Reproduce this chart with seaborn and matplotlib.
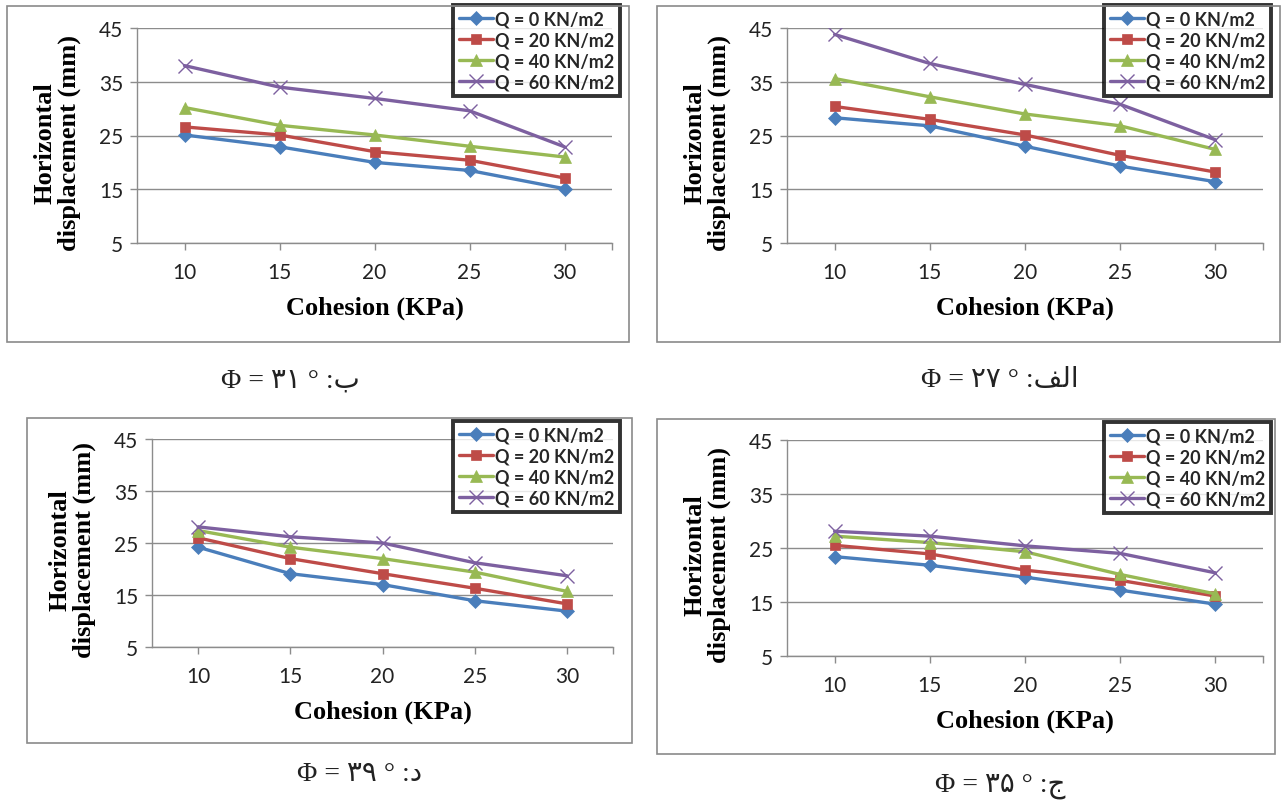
import matplotlib
matplotlib.use("Agg")
import matplotlib.pyplot as plt
from matplotlib.patches import Rectangle
from matplotlib.lines import Line2D
import seaborn as sns
import pandas as pd

# ---------------- data ----------------
cohesion = [10, 15, 20, 25, 30]
series_labels = ["Q = 0 KN/m2", "Q = 20 KN/m2", "Q = 40 KN/m2", "Q = 60 KN/m2"]

# Panel "ب" (phi = 31)
phi31_q0 = [25.1, 22.9, 20.0, 18.5, 15.1]
phi31_q20 = [26.6, 25.1, 22.0, 20.4, 17.1]
phi31_q40 = [30.2, 26.9, 25.1, 23.0, 21.0]
phi31_q60 = [38.0, 34.0, 31.9, 29.6, 22.9]

# Panel "الف" (phi = 27)
phi27_q0 = [28.3, 26.8, 23.0, 19.3, 16.4]
phi27_q20 = [30.4, 28.0, 25.1, 21.3, 18.2]
phi27_q40 = [35.6, 32.2, 29.0, 26.8, 22.4]
phi27_q60 = [43.8, 38.4, 34.5, 30.8, 24.2]

# Panel "د" (phi = 39)
phi39_q0 = [24.2, 19.1, 17.0, 13.9, 11.9]
phi39_q20 = [26.0, 22.0, 19.1, 16.3, 13.3]
phi39_q40 = [27.4, 24.2, 22.0, 19.4, 15.7]
phi39_q60 = [28.1, 26.2, 25.0, 21.2, 18.7]

# Panel "ج" (phi = 35)
phi35_q0 = [23.4, 21.8, 19.6, 17.2, 14.6]
phi35_q20 = [25.5, 23.9, 20.9, 19.0, 16.1]
phi35_q40 = [27.2, 26.0, 24.3, 20.1, 16.5]
phi35_q60 = [28.1, 27.2, 25.4, 24.0, 20.4]

# captions (visual order; Persian digits)
cap_31 = "Φ = ۳۱ ° :ب"
cap_27 = "Φ = ۲۷ ° :" + "\uFED2\uFEDF\u0627"
cap_39 = "Φ = ۳۹ ° :د"
cap_35 = "Φ = ۳۵ ° :ج"

yticks = [5, 15, 25, 35, 45]

# ---------------- style ----------------
sns.set_theme(style="white")
plt.rcParams["font.family"] = ["Lato", "DejaVu Sans"]

colors = ["#4A7EBB", "#BE4B48", "#98B954", "#7D60A0"]
markers = ["D", "s", "^", "x"]
msizes = [7, 7.5, 8.5, 10]

W, H = 1281, 803
fig = plt.figure(figsize=(W / 100, H / 100), dpi=100)


def fx(px):
    return px / W


def fy(py):
    return 1 - py / H


panels = [
    dict(box=(7, 7, 629, 343), ax=(137, 29, 612, 244), leg=(620, 6), cap=(290, 381), cap_text=cap_31,
         data=[phi31_q0, phi31_q20, phi31_q40, phi31_q60]),
    dict(box=(657, 7, 1280, 343), ax=(787, 29, 1263, 244), leg=(1271, 6), cap=(1000, 381), cap_text=cap_27,
         data=[phi27_q0, phi27_q20, phi27_q40, phi27_q60]),
    dict(box=(27, 419, 632, 744), ax=(152, 440, 613, 648), leg=(620, 422), cap=(360, 775), cap_text=cap_39,
         data=[phi39_q0, phi39_q20, phi39_q40, phi39_q60]),
    dict(box=(657, 420, 1275, 755), ax=(787, 441, 1263, 657), leg=(1271, 423), cap=(1000, 786), cap_text=cap_35,
         data=[phi35_q0, phi35_q20, phi35_q40, phi35_q60]),
]

grid_c = "#8C8C8C"

for p in panels:
    bl, bt, br, bb = p["box"]
    fig.patches.append(Rectangle((fx(bl), fy(bb)), fx(br - bl), (bb - bt) / H,
                                 transform=fig.transFigure, fill=False,
                                 edgecolor="#8A8A8A", lw=1.2, zorder=0))
    l, t, r, b = p["ax"]
    ax = fig.add_axes([fx(l), fy(b), fx(r - l), (b - t) / H])
    ax.set_facecolor("none")

    handles = []
    for vals, lab, c, m, ms in zip(p["data"], series_labels, colors, markers, msizes):
        df = pd.DataFrame({"Cohesion": cohesion, "Disp": vals})
        sns.lineplot(data=df, x="Cohesion", y="Disp", ax=ax, color=c, lw=2.4,
                     marker=m, markersize=ms, markeredgecolor=c,
                     markeredgewidth=1.0 if m == "x" else 0.5, zorder=3)
        handles.append(Line2D([], [], color=c, lw=2.4, marker=m, markersize=ms,
                              markeredgecolor=c, markeredgewidth=1.0 if m == "x" else 0.5))

    ax.set_xlim(7.5, 32.5)
    ax.set_ylim(5, 45)
    ax.set_xticks(cohesion)
    ax.set_xticks([32.5], minor=True)
    ax.set_yticks(yticks)
    ax.yaxis.grid(True, color=grid_c, lw=1.0)
    ax.set_axisbelow(True)
    for s in ["top", "right"]:
        ax.spines[s].set_visible(False)
    for s in ["left", "bottom"]:
        ax.spines[s].set_color(grid_c)
        ax.spines[s].set_linewidth(1.0)
    ax.tick_params(axis="both", which="both", direction="out", length=5, width=1,
                   color=grid_c, labelsize=15, labelcolor="#222222", pad=5, bottom=True, left=True)
    ax.tick_params(axis="x", pad=9)

    ax.set_xlabel("Cohesion (KPa)", family=["Liberation Serif"], fontweight="bold",
                  fontsize=19, color="black")
    ax.set_ylabel("Horizontal\ndisplacement (mm)", family=["Liberation Serif"], fontweight="bold",
                  fontsize=19, color="black", linespacing=1.05)
    axw, axh = r - l, b - t
    ax.xaxis.set_label_coords(0.5, -(297 - 244) / axh)
    ax.yaxis.set_label_coords(-(137 - 81) / axw, 0.47)

    leg = ax.legend(handles, series_labels, loc="upper right",
                    bbox_to_anchor=(fx(p["leg"][0]), fy(p["leg"][1])),
                    bbox_transform=fig.transFigure, frameon=True, fancybox=False,
                    prop=dict(family="Lato", weight="bold", size=13),
                    handlelength=1.9, handletextpad=0.1, labelspacing=0.22,
                    borderpad=0.32, borderaxespad=0)
    leg.get_frame().set_edgecolor("black")
    leg.get_frame().set_linewidth(2.8)
    leg.get_frame().set_facecolor("white")
    leg.set_zorder(10)

    fig.text(fx(p["cap"][0]), fy(p["cap"][1]), p["cap_text"], ha="center", va="center",
             family=["Liberation Serif", "DejaVu Sans"], fontsize=20, color="#222222")

fig.savefig("out.png", dpi=100, facecolor="white")
